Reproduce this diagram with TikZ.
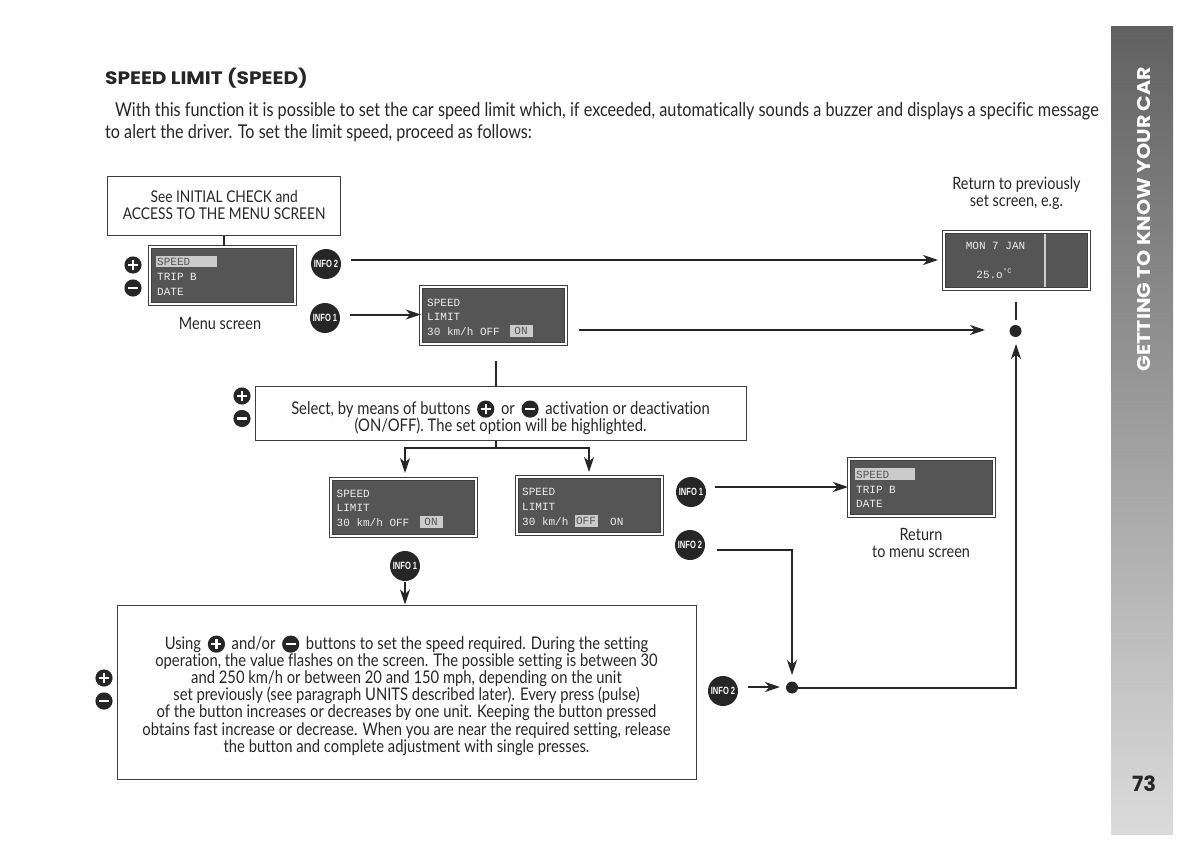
\documentclass[tikz,border=0pt]{standalone}
\usepackage{fontspec}
\setmainfont[FakeStretch=0.85,RawFeature=-liga]{Lato}
\newfontfamily\headf[FakeStretch=1.12]{Poppins}
\newfontfamily\pagef{Poppins}
\newfontfamily\infof[FakeStretch=0.72]{Liberation Sans}
\newfontfamily\lcdf{Liberation Mono}
\usetikzlibrary{arrows.meta,calc}
\definecolor{ink}{HTML}{262626}
\definecolor{lcdgray}{HTML}{555555}
\definecolor{lcdtxt}{HTML}{EDEDED}
\definecolor{hilite}{HTML}{CBCBCB}
\definecolor{edge}{HTML}{3E3E3E}
\newcommand{\plusicon}{\tikz[baseline=-5pt,x=1pt,y=1pt,line width=2.4pt]{\fill[ink] (0,0) circle (8.6); \draw[white] (-5,0)--(5,0) (0,-5)--(0,5);}}
\newcommand{\minusicon}{\tikz[baseline=-5pt,x=1pt,y=1pt,line width=2.4pt]{\fill[ink] (0,0) circle (8.6); \draw[white] (-5,0)--(5,0);}}
\tikzset{
  box/.style={draw=edge,line width=1pt,fill=white,inner sep=0pt},
  boxtext/.style={inner sep=0pt,text=ink,font=\fontsize{17.4}{17.2}\selectfont,align=center},
  lcd/.style={draw=edge,line width=1pt,double=white,double distance=2pt,fill=lcdgray,inner sep=0pt},
  lcdline/.style={anchor=base west,inner sep=0pt,text=lcdtxt,font=\lcdf\fontsize{11}{11}\selectfont},
  hl/.style={fill=hilite,inner sep=0pt,text=lcdgray,font=\lcdf\fontsize{11}{11}\selectfont},
  info/.style={circle,fill=ink,minimum size=30pt,inner sep=0pt,text=white,font=\infof\bfseries\fontsize{10.5}{11}\selectfont},
  dotnode/.style={circle,fill=ink,minimum size=12pt,inner sep=0pt},
  icon/.style={inner sep=0pt},
  label/.style={inner sep=0pt,text=ink,font=\fontsize{17}{17.5}\selectfont,align=center},
  conn/.style={draw=ink,line width=2pt},
  arr/.style={conn,-{Stealth[length=15pt,width=10pt,inset=4.5pt]}},
}
\begin{document}
\begin{tikzpicture}[x=1pt,y=-1pt]
\useasboundingbox (0,0) rectangle (1200,861);
\fill[white] (0,0) rectangle (1200,861);
% sidebar
\shade[top color=black!62,middle color=black!42,bottom color=black!14] (1111,27) rectangle (1173,834);
\node[rotate=90,inner sep=0pt,text=white,font=\headf\bfseries\fontsize{18.4}{19}\selectfont] (side) at (1144,219) {GETTING TO KNOW YOUR CAR};
\node[inner sep=0pt,text=ink,font=\pagef\bfseries\fontsize{21}{21}\selectfont] (page) at (1144,784) {73};
% header text
\node[anchor=base west,inner sep=0pt,text=ink,font=\headf\bfseries\fontsize{18}{18}\selectfont] (title) at (105,85) {SPEED LIMIT (SPEED)};
\node[anchor=base west,inner sep=0pt,text=ink,font=\fontsize{19.12}{19}\selectfont] (p1) at (115,117) {With this function it is possible to set the car speed limit which, if exceeded, automatically sounds a buzzer and displays a specific message};
\node[anchor=base west,inner sep=0pt,text=ink,font=\fontsize{19}{19}\selectfont] (p2) at (105,138.5) {to alert the driver. To set the limit speed, proceed as follows:};
% boxes
\node[box,minimum width=233pt,minimum height=59pt] (start) at (224.2,206.2) {};
\node[boxtext,font=\fontsize{16.2}{17.2}\selectfont] (starttxt) at (224.2,205.5) {See INITIAL CHECK and\\ACCESS TO THE MENU SCREEN};
\node[box,minimum width=491pt,minimum height=54pt] (select) at (500.5,413) {};
\node[boxtext] (selecttxt) at (500.5,417.5) {Select, by means of buttons\, \plusicon{}\, or \,\minusicon{}\, activation or deactivation\\(ON/OFF). The set option will be highlighted.};
\node[box,minimum width=579pt,minimum height=174pt] (big) at (406.5,692) {};
\node[boxtext] (bigtxt) at (406.5,695.5) {Using\, \plusicon{}\, and/or\, \minusicon{}\, buttons to set the speed required. During the setting\\operation, the value flashes on the screen. The possible setting is between 30\\and 250 km/h or between 20 and 150 mph, depending on the unit\\set previously (see paragraph UNITS described later). Every press (pulse)\\of the button increases or decreases by one unit. Keeping the button pressed\\obtains fast increase or decrease. When you are near the required setting, release\\the button and complete adjustment with single presses.};
% LCDs
\node[lcd,minimum width=145pt,minimum height=57pt] (lcdmenu) at (222.2,275.4) {};
\node[lcd,minimum width=145pt,minimum height=57pt] (lcdlimit) at (493.8,315.5) {};
\node[lcd,minimum width=145pt,minimum height=57pt] (lcddate) at (1016,260.5) {};
\node[lcd,minimum width=145pt,minimum height=57pt] (lcdon) at (403.3,507) {};
\node[lcd,minimum width=145pt,minimum height=57pt] (lcdoff) at (589,505.3) {};
\node[lcd,minimum width=145pt,minimum height=57pt] (lcdret) at (921,487.5) {};
% LCD contents
\node[hl,minimum width=60.5pt,minimum height=11.6pt] (h1) at (186.3,261.5) {};
\node[lcdline,text=lcdgray] (m1) at (157,265.5) {SPEED};
\node[lcdline] (m2) at (157,280) {TRIP B};
\node[lcdline] (m3) at (157,295) {DATE};
\node[lcdline] (l1) at (427,306) {SPEED};
\node[lcdline] (l2) at (427,320.5) {LIMIT};
\node[lcdline] (l3) at (427,335) {30 km/h OFF};
\node[hl,minimum width=23pt,minimum height=12pt] (l4) at (521,331) {ON};
\node[lcdline] (o1) at (336.5,497) {SPEED};
\node[lcdline] (o2) at (336.5,511.5) {LIMIT};
\node[lcdline] (o3) at (336.5,526) {30 km/h OFF};
\node[hl,minimum width=23pt,minimum height=12pt] (o4) at (431,522) {ON};
\node[lcdline] (f1) at (522,495.5) {SPEED};
\node[lcdline] (f2) at (522,510) {LIMIT};
\node[lcdline] (f3) at (522,525) {30 km/h};
\node[hl,minimum width=23pt,minimum height=12pt] (f4) at (586,521) {OFF};
\node[lcdline] (f5) at (610,525) {ON};
\node[hl,minimum width=60.5pt,minimum height=11.6pt] (r0) at (885,473.8) {};
\node[lcdline,text=lcdgray] (r1) at (856,478) {SPEED};
\node[lcdline] (r2) at (856,493) {TRIP B};
\node[lcdline] (r3) at (856,507.5) {DATE};
\node[lcdline,anchor=center] (d1) at (995.5,246) {MON 7 JAN};
\node[lcdline,anchor=base east] (d2) at (1003,279) {25.o};
\node[lcdline,anchor=base west,font=\lcdf\fontsize{7}{7}\selectfont] (d3) at (1003,274) {°C};
\coordinate (divt) at (1045,234);
\coordinate (divb) at (1045,287);
\draw[hilite,line width=1.2pt] (divt) -- (divb);
% labels
\node[label] (menulbl) at (220,323.5) {Menu screen};
\node[label] (retprev) at (1016.5,193.5) {Return to previously\\set screen, e.g.};
\node[label] (retmenu) at (921,543) {Return\\to menu screen};
% icons
\node[icon] (ap) at (133,265) {\plusicon};
\node[icon] (am) at (133,288) {\minusicon};
\node[icon] (bp) at (242,396) {\plusicon};
\node[icon] (bm) at (242,418.5) {\minusicon};
\node[icon] (cp) at (104,678) {\plusicon};
\node[icon] (cm) at (104,701) {\minusicon};
% info buttons
\node[info] (i2a) at (326,264) {INFO 2};
\node[info] (i1a) at (325,318) {INFO 1};
\node[info] (i1b) at (691,492) {INFO 1};
\node[info] (i2b) at (690,545) {INFO 2};
\node[info] (i1c) at (405,566) {INFO 1};
\node[info] (i2c) at (723,691) {INFO 2};
% dots
\node[dotnode] (dtop) at (1015.5,331) {};
\node[dotnode] (dbot) at (792,687.5) {};
% helpers
\coordinate (a1) at (351,260);
\coordinate (a2) at (938,260);
\coordinate (b1) at (350,314.5);
\coordinate (c1) at (579,330);
\coordinate (c2) at (985,330);
\coordinate (e1) at (1015.5,302);
\coordinate (f0) at (496,361);
\coordinate (g0) at (496,448);
\coordinate (gl) at (405,448);
\coordinate (gr) at (589,448);
\coordinate (gla) at (405,473);
\coordinate (gra) at (589,472);
\coordinate (i1) at (715,487);
\coordinate (j1) at (717,550);
\coordinate (j2) at (792,550);
\coordinate (j3) at (792,675);
\coordinate (k1) at (748,687);
\coordinate (k2) at (780,687);
\coordinate (n1) at (1016,687.5);
\coordinate (n2) at (1016,344);
\coordinate (q1) at (405,582);
% connectors
\draw[conn,line width=1.2pt] (start.south -| 224,0) -- (lcdmenu.north -| 224,0);
\draw[arr] (a1) -- (a2);
\draw[arr] (b1) -- (lcdlimit.west |- b1);
\draw[arr] (c1) -- (c2);
\draw[conn] (e1) -- ($(dtop.north)+(0,-5)$);
\draw[conn] (f0) -- (select.north -| f0);
\draw[conn] (select.south -| g0) -- (g0);
\draw[arr] (gr) -- (gra);
\draw[arr] (gl) -- (gla);
\draw[conn,line cap=rect] (gl) -- (gr);
\draw[arr] (i1) -- (lcdret.west |- i1);
\draw[arr] (j1) -- (j2) -- (j3);
\draw[arr] (k1) -- (k2);
\draw[arr] (dbot) -- (n1) -- (n2);
\draw[arr] (q1) -- (big.north -| q1);
\end{tikzpicture}
\end{document}
